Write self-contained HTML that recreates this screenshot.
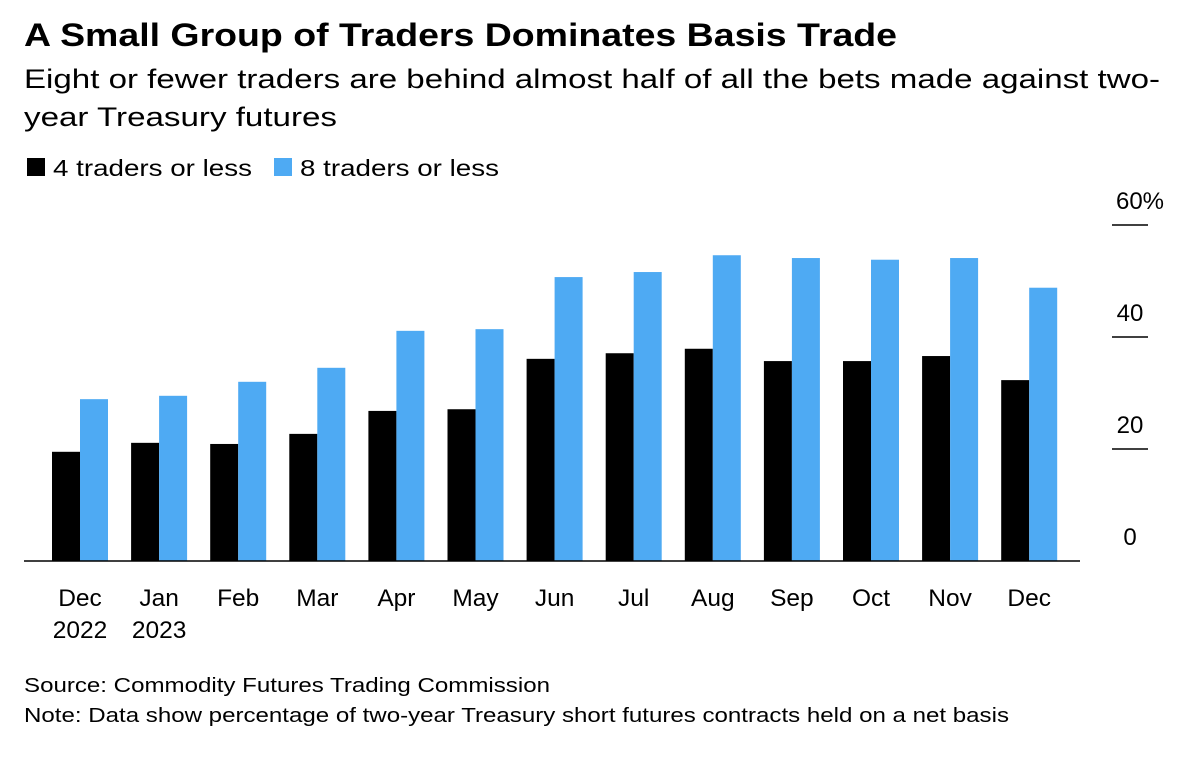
<!DOCTYPE html>
<html><head><meta charset="utf-8"><style>
body{margin:0;background:#fff;font-family:"Liberation Sans",sans-serif;}
svg text{font-family:"Liberation Sans",sans-serif;}
</style></head><body>
<svg id="c" width="1200" height="756">
<text x="24" y="46" font-size="32" font-weight="bold" fill="#000" textLength="873" lengthAdjust="spacingAndGlyphs">A Small Group of Traders Dominates Basis Trade</text>
<text x="24" y="88" font-size="27" fill="#000" textLength="1136" lengthAdjust="spacingAndGlyphs">Eight or fewer traders are behind almost half of all the bets made against two-</text>
<text x="24" y="126" font-size="27" fill="#000" textLength="313" lengthAdjust="spacingAndGlyphs">year Treasury futures</text>
<rect x="27" y="158" width="18" height="18" fill="#000"/>
<text x="53" y="176" font-size="23" textLength="199" lengthAdjust="spacingAndGlyphs">4 traders or less</text>
<rect x="274" y="158" width="18" height="18" fill="#4eaaf3"/>
<text x="300" y="176" font-size="23" textLength="199" lengthAdjust="spacingAndGlyphs">8 traders or less</text>
<g id="plot"></g>
<text x="24" y="692" font-size="20.5" textLength="526" lengthAdjust="spacingAndGlyphs">Source: Commodity Futures Trading Commission</text>
<text x="24" y="722" font-size="20.5" textLength="985" lengthAdjust="spacingAndGlyphs">Note: Data show percentage of two-year Treasury short futures contracts held on a net basis</text>
</svg>
<script>
const categories=["Dec","Jan","Feb","Mar","Apr","May","Jun","Jul","Aug","Sep","Oct","Nov","Dec"];
const years=["2022","2023","","","","","","","","","","",""];
const four=[19.5,21.1,20.9,22.7,26.8,27.1,36.1,37.1,37.9,35.7,35.7,36.6,32.3];
const eight=[28.9,29.5,32,34.5,41.1,41.4,50.7,51.6,54.6,54.1,53.8,54.1,48.8];
const ticks=[0,20,40,60];
const tickLabels=["0","20","40","60%"];
const NS="http://www.w3.org/2000/svg",g=document.getElementById('plot');
const y=v=>561-v*5.6, x=i=>80+i*79.1, bw=28;
function mk(t,a){const e=document.createElementNS(NS,t);for(const k in a)e.setAttribute(k,a[k]);g.appendChild(e);return e;}
ticks.forEach((t,i)=>{
 if(t>0){const l=mk('line',{x1:1112,x2:1148,y1:y(t),y2:y(t),stroke:'#000','stroke-width':1.5});
 
 }
 const tx=mk('text',{x:t===60?1140:1130,y:y(t)-16,'font-size':24,'text-anchor':'middle'});tx.textContent=tickLabels[i];
 
 
});
categories.forEach((c,i)=>{
 const b=mk('rect',{x:x(i)-bw,y:y(four[i]),width:bw,height:y(0)-y(four[i]),fill:'#000'});
 
 
 const b2=mk('rect',{x:x(i),y:y(eight[i]),width:bw,height:y(0)-y(eight[i]),fill:'#4eaaf3'});
 
 
 const t=mk('text',{x:x(i),y:606,'font-size':24.5,'text-anchor':'middle'});t.textContent=c;
 
 
 if(years[i]){const t2=mk('text',{x:x(i),y:638,'font-size':24.5,'text-anchor':'middle'});t2.textContent=years[i];
 
 }
});
const ax=mk('line',{x1:24,x2:1080,y1:y(0),y2:y(0),stroke:'#000','stroke-width':1.5});


</script>
</body></html>
